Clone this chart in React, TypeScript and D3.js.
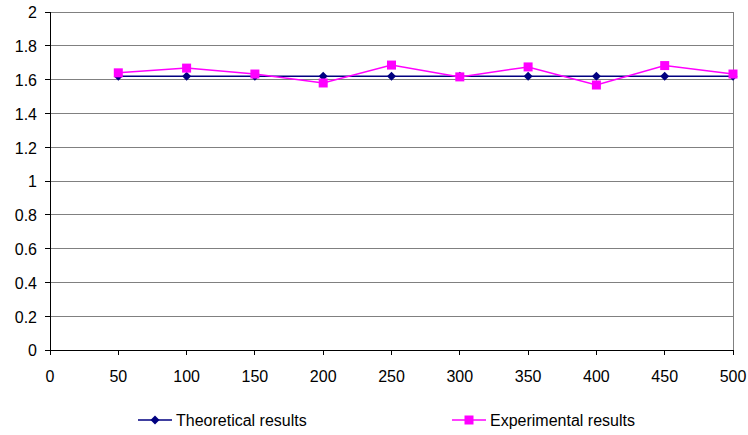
import React from "react";
import * as d3 from "d3";

const xValues = [50, 100, 150, 200, 250, 300, 350, 400, 450, 500];
const theoretical = [1.62, 1.62, 1.62, 1.62, 1.62, 1.62, 1.62, 1.62, 1.62, 1.62];
const experimental = [1.64, 1.668, 1.633, 1.58, 1.686, 1.616, 1.675, 1.568, 1.683, 1.633];
const xTicks = [0, 50, 100, 150, 200, 250, 300, 350, 400, 450, 500];
const yTicks = [0, 0.2, 0.4, 0.6, 0.8, 1, 1.2, 1.4, 1.6, 1.8, 2];
const seriesNames = ["Theoretical results", "Experimental results"];

const W = 748;
const H = 435;
const margin = { left: 50, right: 15, top: 12, bottom: 85 };
const font = "'Liberation Sans', Arial, sans-serif";

export default function App() {
  const x = d3.scaleLinear().domain([0, 500]).range([margin.left, W - margin.right]);
  const y = d3.scaleLinear().domain([0, 2]).range([H - margin.bottom, margin.top]);

  const line = d3
    .line<number>()
    .x((_, i) => x(xValues[i]))
    .y((d) => y(d));

  const diamond = (cx: number, cy: number, r: number) =>
    `M${cx},${cy - r}L${cx + r},${cy}L${cx},${cy + r}L${cx - r},${cy}Z`;

  const x0 = x(0);
  const x1 = x(500);
  const yb = y(0);

  return (
    <svg
      width={W}
      height={H}
      style={{ position: "absolute", left: 0, top: 0, background: "#fff" }}
      fontFamily={font}
    >
      {/* grid */}
      {yTicks.map((t) => (
        <line key={t} x1={x0} x2={x1} y1={y(t)} y2={y(t)} stroke="#808080" strokeWidth={1} shapeRendering="crispEdges" />
      ))}
      <line x1={x1} x2={x1} y1={y(2)} y2={yb} stroke="#808080" shapeRendering="crispEdges" />
      {/* axes */}
      <line x1={x0} x2={x0} y1={y(2)} y2={yb} stroke="#000" shapeRendering="crispEdges" />
      <line x1={x0} x2={x1} y1={yb} y2={yb} stroke="#000" shapeRendering="crispEdges" />
      {yTicks.map((t) => (
        <g key={"y" + t}>
          <line x1={x0 - 5} x2={x0} y1={y(t)} y2={y(t)} stroke="#000" shapeRendering="crispEdges" />
          <text x={x0 - 13} y={y(t)} dy="0.4em" textAnchor="end" fontSize={16} fill="#000">
            {t}
          </text>
        </g>
      ))}
      {xTicks.map((t) => (
        <g key={"x" + t}>
          <line x1={x(t)} x2={x(t)} y1={yb} y2={yb + 5} stroke="#000" shapeRendering="crispEdges" />
          <text x={x(t)} y={yb + 32} textAnchor="middle" fontSize={16} fill="#000">
            {t}
          </text>
        </g>
      ))}
      {/* theoretical */}
      <path d={line(theoretical) || ""} fill="none" stroke="#000080" strokeWidth={1.5} />
      {theoretical.map((v, i) => (
        <path key={"t" + i} d={diamond(x(xValues[i]), y(v), 4.5)} fill="#000080" />
      ))}
      {/* experimental */}
      <path d={line(experimental) || ""} fill="none" stroke="#ff00ff" strokeWidth={1.5} />
      {experimental.map((v, i) => (
        <rect key={"e" + i} x={x(xValues[i]) - 4.5} y={y(v) - 4.5} width={9} height={9} fill="#ff00ff" />
      ))}
      {/* legend */}
      <g>
        <line x1={138} x2={172} y1={420} y2={420} stroke="#000080" strokeWidth={1.5} />
        <path d={diamond(155, 420, 4.5)} fill="#000080" />
        <text x={176} y={420} dy="0.35em" fontSize={16} fill="#000">
          {seriesNames[0]}
        </text>
        <line x1={452} x2={486} y1={420} y2={420} stroke="#ff00ff" strokeWidth={1.5} />
        <rect x={464.5} y={415.5} width={9} height={9} fill="#ff00ff" />
        <text x={490} y={420} dy="0.35em" fontSize={16} fill="#000">
          {seriesNames[1]}
        </text>
      </g>
    </svg>
  );
}
